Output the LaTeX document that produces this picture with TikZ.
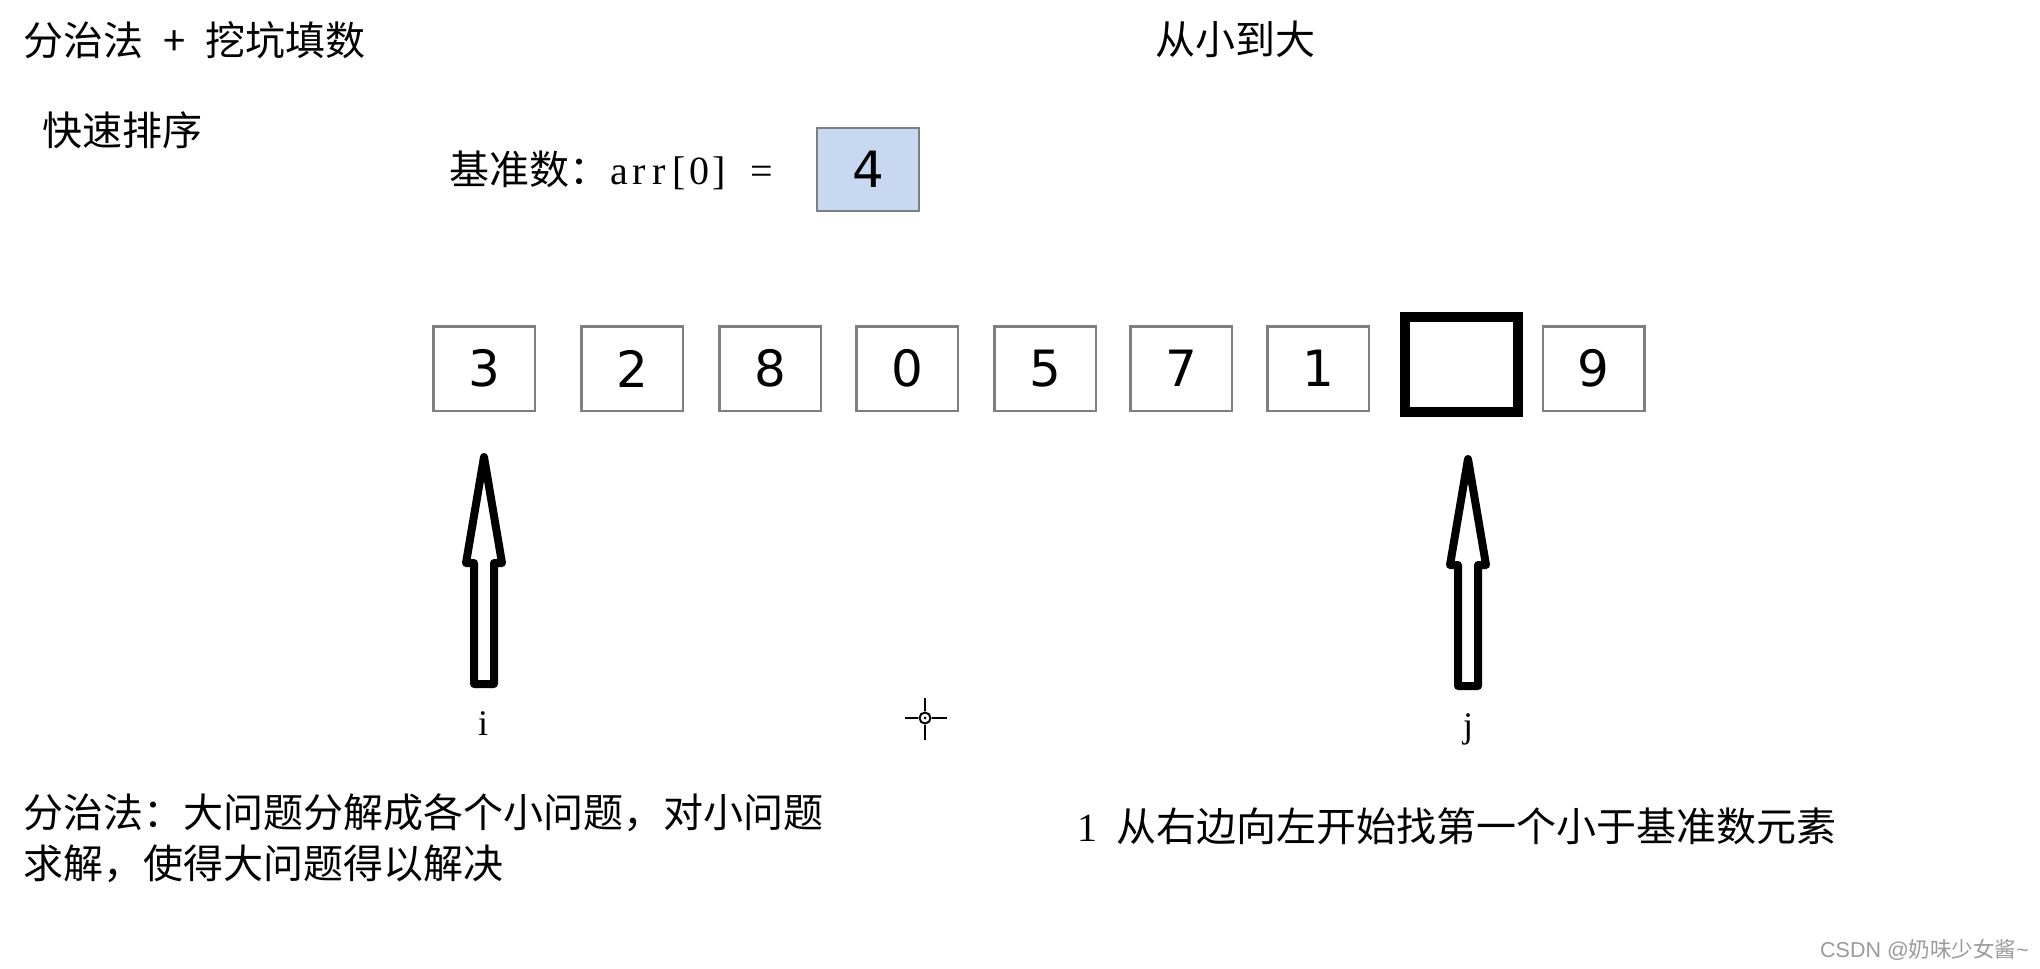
\documentclass[tikz,border=0pt]{standalone}
\usepackage{fontspec}
\setmainfont{Liberation Serif}
\newfontfamily\cjk{Noto Sans CJK SC}
\newfontfamily\dig{DejaVu Sans}
\newfontfamily\wmf{Liberation Sans}
\definecolor{boxgray}{HTML}{7F7F7F}
\definecolor{pivotblue}{HTML}{C6D9F1}
\definecolor{wmgray}{HTML}{9A9A9A}
\newcommand\hw[1]{\makebox[20pt]{#1}}
\begin{document}
\begin{tikzpicture}[x=1pt,y=-1pt,
  cell/.style={draw=boxgray, line width=2.5pt, minimum width=101.5pt, minimum height=84.5pt, inner sep=0pt, font=\dig\fontsize{50}{60}\selectfont},
  txt/.style={anchor=base west, inner sep=0pt, font=\cjk\fontsize{40}{51}\selectfont},
  lab/.style={anchor=base, inner sep=0pt, font=\fontsize{36}{40}\selectfont},
  uparrow/.pic={\draw[line width=8pt, line join=round] (0,0) -- (18,106) -- (10,106) -- (10,227) -- (-10,227) -- (-10,106) -- (-18,106) -- cycle;}
]
\fill[white] (0,0) rectangle (2040,969);
\useasboundingbox (0,0) rectangle (2040,969);

% headings
\node[txt] (title) at (23,55) {分治法\hspace{0.5em}+\hspace{0.5em}挖坑填数};
\node[txt] (qs) at (42,145) {快速排序};
\node[txt] (order) at (1155,54) {从小到大};

% pivot
\node[txt] (pivlab) at (449,184) {基准数：{\rmfamily\hw{a}\hw{r}\hw{r}\hw{[}\hw{0}\hw{]}\hspace{23pt}\hw{=}}};
\node[draw=boxgray, fill=pivotblue, line width=2.5pt, minimum width=102pt, minimum height=83pt, inner sep=0pt, font=\dig\fontsize{50}{60}\selectfont] (pivot) at (868,169.5) {4};

% array
\node[cell] (c3) at (484,368.5) {3};
\node[cell] (c2) at (632,368.5) {2};
\node[cell] (c8) at (770,368.5) {8};
\node[cell] (c0) at (907,368.5) {0};
\node[cell] (c5) at (1045,368.5) {5};
\node[cell] (c7) at (1181,368.5) {7};
\node[cell] (c1) at (1318,368.5) {1};
\node[draw=black, line width=9.5pt, minimum width=113pt, minimum height=95pt, inner sep=0pt] (hole) at (1461.5,364.5) {};
\node[cell] (c9) at (1593.5,368.5) {9};

% pointers
\pic (iarrow) at (484,457) {uparrow};
\pic (jarrow) at (1468,459) {uparrow};
\node[lab] (ilab) at (483,735) {i};
\node[lab] (jlab) at (1468,737) {j};

% cursor
\coordinate (cur) at (925,718);
\draw[line width=2pt] (cur) circle[radius=5.5pt];
\fill (cur) circle[radius=1.5pt];
\draw[line width=2.5pt] (905,718) -- (918,718) (932,718) -- (947,718) (925,698) -- (925,711) (925,725) -- (925,740);

% explanations
\node[txt] (l1) at (23,827) {分治法：大问题分解成各个小问题，对小问题};
\node[txt] (l2) at (23,878) {求解，使得大问题得以解决};
\node[txt] (step1) at (1077,841) {{\rmfamily\hw{1}}\hspace{19pt}从右边向左开始找第一个小于基准数元素};

% watermark
\node[anchor=base west, inner sep=0pt, text=wmgray, font=\fontsize{21.5}{24}\selectfont] (wm) at (1820,957) {{\wmf CSDN @}{\cjk 奶味少女酱}{\wmf\textasciitilde}};
\end{tikzpicture}
\end{document}
